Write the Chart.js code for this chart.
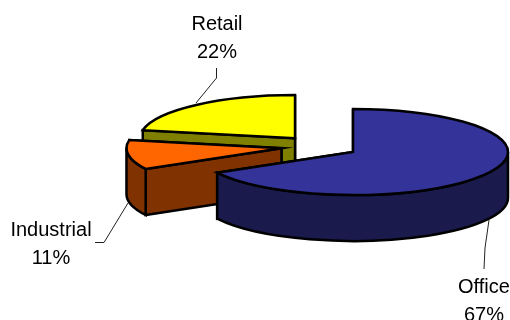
<!DOCTYPE html>
<html>
<head>
<meta charset="utf-8">
<style>
  html, body { margin: 0; padding: 0; background: #fff; }
  canvas { display: block; }
</style>
<script src="https://cdn.jsdelivr.net/npm/chart.js@4"></script>
</head>
<body>
<canvas id="chart" width="510" height="320"></canvas>
<script>
// Floor-space share by property type
const categories = ['Office', 'Industrial', 'Retail'];
const shares = [67, 11, 22];
const topColors = ['#333399', '#FF6600', '#FFFF00'];
const wallColors = ['#1A1A4D', '#803300', '#808000'];

// Where each label sits and how its leader line runs to the slice
const labelAnchors = [[484, 293], [51, 236], [217, 30]];
const leaderLines = [
  [[484, 269], [485, 248], [489, 220]],
  [[95, 242.5], [104, 242.5], [128, 203]],
  [[216.5, 68], [216.5, 78], [196, 103]]
];

const TILT = 0.278;       // vertical squash of the pie disc
const DEPTH = 46;         // height of the extruded edge
const LINE_HEIGHT = 28;

function rimPoint(c, r, angle) {
  return [c[0] + r * Math.cos(angle), c[1] + TILT * r * Math.sin(angle)];
}

function fillStroke(ctx, fill, opts) {
  ctx.fillStyle = fill;
  ctx.strokeStyle = opts.borderColor;
  ctx.lineWidth = opts.borderWidth;
  ctx.lineJoin = 'miter';
  ctx.fill();
  ctx.stroke();
}

function drawEdgeWall(ctx, c, r, angle, fill, opts) {
  const p = rimPoint(c, r, angle);
  ctx.beginPath();
  ctx.moveTo(c[0], c[1]);
  ctx.lineTo(p[0], p[1]);
  ctx.lineTo(p[0], p[1] + DEPTH);
  ctx.lineTo(c[0], c[1] + DEPTH);
  ctx.closePath();
  fillStroke(ctx, fill, opts);
}

// Draws one slice as a tilted disc sector: cut faces, then the front rim, then the top
function drawSlice(ctx, arc, wall) {
  const { x, y, startAngle, endAngle, outerRadius } = arc.getProps(
    ['x', 'y', 'startAngle', 'endAngle', 'outerRadius'], true);
  const opts = arc.options;
  const mid = (startAngle + endAngle) / 2;
  const c = [x + opts.offset * Math.cos(mid), y + TILT * opts.offset * Math.sin(mid)];
  const ry = TILT * outerRadius;

  drawEdgeWall(ctx, c, outerRadius, endAngle, wall, opts);
  drawEdgeWall(ctx, c, outerRadius, startAngle, wall, opts);

  const a1 = Math.max(startAngle, 0);
  const a2 = Math.min(endAngle, Math.PI);
  if (a2 > a1) {
    ctx.beginPath();
    ctx.ellipse(c[0], c[1], outerRadius, ry, 0, a1, a2);
    ctx.ellipse(c[0], c[1] + DEPTH, outerRadius, ry, 0, a2, a1, true);
    ctx.closePath();
    fillStroke(ctx, wall, opts);
  }

  ctx.beginPath();
  ctx.moveTo(c[0], c[1]);
  ctx.ellipse(c[0], c[1], outerRadius, ry, 0, startAngle, endAngle);
  ctx.closePath();
  fillStroke(ctx, opts.backgroundColor, opts);
}

const tiltedPie = {
  id: 'tiltedPie',
  beforeDatasetDraw(chart, args) {
    const ctx = chart.ctx;
    const arcs = chart.getDatasetMeta(args.index).data;
    ctx.save();
    for (let i = arcs.length - 1; i >= 0; i--) {
      drawSlice(ctx, arcs[i], wallColors[i]);
    }
    ctx.restore();
    return false;
  },
  afterDatasetsDraw(chart) {
    const ctx = chart.ctx;
    ctx.save();
    ctx.strokeStyle = '#222';
    ctx.lineWidth = 1;
    leaderLines.forEach(line => {
      ctx.beginPath();
      line.forEach((p, i) => i ? ctx.lineTo(p[0], p[1]) : ctx.moveTo(p[0], p[1]));
      ctx.stroke();
    });
    ctx.fillStyle = '#000';
    ctx.font = '20px "Liberation Sans", Arial, sans-serif';
    ctx.textAlign = 'center';
    ctx.textBaseline = 'alphabetic';
    categories.forEach((name, i) => {
      const [lx, ly] = labelAnchors[i];
      ctx.fillText(name, lx, ly);
      ctx.fillText(shares[i] + '%', lx, ly + LINE_HEIGHT);
    });
    ctx.restore();
  }
};

new Chart(document.getElementById('chart'), {
  type: 'pie',
  data: {
    labels: categories,
    datasets: [{
      data: shares,
      backgroundColor: topColors,
      borderColor: '#000',
      borderWidth: 2.5,
      offset: 38.7,
      radius: 155
    }]
  },
  options: {
    responsive: false,
    animation: false,
    events: [],
    layout: { padding: { left: 129.4, right: 0, top: 0, bottom: 27 } },
    plugins: { legend: { display: false }, tooltip: { enabled: false } }
  },
  plugins: [tiltedPie]
});
</script>
</body>
</html>
